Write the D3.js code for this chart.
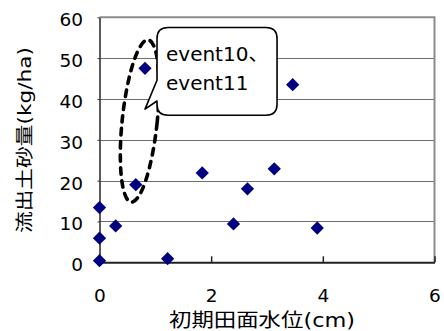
<!DOCTYPE html>
<html>
<head>
<meta charset="utf-8">
<script src="https://cdn.jsdelivr.net/npm/d3@7"></script>
<style>
  html, body { margin: 0; padding: 0; background: #fff; }
  svg { display: block; }
  text { font-family: "DejaVu Sans", "Noto Sans CJK JP", sans-serif; fill: #000; }
</style>
</head>
<body>
<svg id="chart" width="444" height="331"></svg>
<script>
// ---- data ----
const xValues = [0, 0, 0, 0.29, 0.65, 0.815, 1.22, 1.84, 2.40, 2.65, 3.13, 3.46, 3.90];
const yValues = [0.4, 5.9, 13.4, 8.9, 19.0, 47.5, 0.9, 21.9, 9.4, 18.0, 22.9, 43.5, 8.4];
const xTicks = [0, 2, 4, 6];
const yTicks = [0, 10, 20, 30, 40, 50, 60];
const xTitle = "初期田面水位(cm)";
const yTitle = "流出土砂量(kg/ha)";
const calloutLines = ["event10、", "event11"];
// annotation anchors in data units
const ellipseCenter = [0.72, 34.6];
const calloutBox = { x0: 1.03, x1: 3.18, y0: 57.5, y1: 36.0 };
const calloutTip = [0.815, 37.5];
const calloutTail = [44.6, 39.5];

// ---- layout ----
const svg = d3.select("#chart");
const x = d3.scaleLinear().domain([0, 6]).range([99.5, 434.5]);
const y = d3.scaleLinear().domain([0, 60]).range([262.3, 17.3]);
const X0 = x(0), X1 = x(6), Y0 = y(0), Y1 = y(60);

// gridlines
svg.append("g").selectAll("line").data(yTicks.filter(d => d > 0 && d < 60)).join("line")
  .attr("x1", X0).attr("x2", X1)
  .attr("y1", d => Math.round(y(d)) + 0.5).attr("y2", d => Math.round(y(d)) + 0.5)
  .attr("stroke", "#6e6e6e").attr("stroke-width", 1);

// frame top / right
svg.append("path")
  .attr("d", `M${X0},${Y1} H${X1} V${Y0}`)
  .attr("fill", "none").attr("stroke", "#8c8c8c").attr("stroke-width", 2);

// x axis
const xAxis = d3.axisBottom(x).tickValues(xTicks).tickSize(-6).tickSizeOuter(0).tickFormat(d3.format("d"));
const gx = svg.append("g").attr("transform", `translate(0,${Y0})`).call(xAxis);
gx.select(".domain").attr("stroke", "#222").attr("stroke-width", 2);
gx.selectAll(".tick line").attr("stroke", "#222").attr("stroke-width", 1.5);
gx.selectAll(".tick text").attr("y", 40).attr("dy", 0)
  .style("font-family", "'DejaVu Sans', sans-serif").style("font-size", "18.5px").attr("fill", "#000");

// y axis
const yAxis = d3.axisLeft(y).tickValues(yTicks).tickSize(2).tickSizeOuter(0).tickFormat(d3.format("d"));
const gy = svg.append("g").attr("transform", `translate(${X0},0)`).call(yAxis);
gy.select(".domain").attr("stroke", "#333").attr("stroke-width", 1.6);
gy.selectAll(".tick line").attr("stroke", "#333");
gy.selectAll(".tick text").attr("x", -16.5).attr("dy", 8.5)
  .style("font-family", "'DejaVu Sans', sans-serif").style("font-size", "18.5px").attr("fill", "#000");
svg.selectAll(".domain").attr("fill", "none");

// dashed ellipse annotation
svg.append("ellipse")
  .attr("transform", `translate(${x(ellipseCenter[0])},${y(ellipseCenter[1])}) rotate(6)`)
  .attr("rx", 17.5).attr("ry", 81.5)
  .attr("fill", "none").attr("stroke", "#000").attr("stroke-width", 3.6)
  .attr("stroke-dasharray", "6.5,6.5").attr("stroke-linecap", "round");

// points
const pts = xValues.map((v, i) => [v, yValues[i]]);
svg.append("g").selectAll("path").data(pts).join("path")
  .attr("d", d3.symbol(d3.symbolSquare).size(88)())
  .attr("transform", d => `translate(${x(d[0])},${y(d[1])}) rotate(45)`)
  .attr("fill", "#000080");

// callout
const bx0 = x(calloutBox.x0), bx1 = x(calloutBox.x1), by0 = y(calloutBox.y0), by1 = y(calloutBox.y1);
const r = 11;
const tipX = x(calloutTip[0]), tipY = y(calloutTip[1]);
const tA = y(calloutTail[0]), tB = y(calloutTail[1]);
const p = d3.path();
p.moveTo(bx0 + r, by0);
p.lineTo(bx1 - r, by0);
p.quadraticCurveTo(bx1, by0, bx1, by0 + r);
p.lineTo(bx1, by1 - r);
p.quadraticCurveTo(bx1, by1, bx1 - r, by1);
p.lineTo(bx0 + r, by1);
p.quadraticCurveTo(bx0, by1, bx0, by1 - r);
p.lineTo(bx0, tB);
p.lineTo(tipX, tipY);
p.lineTo(bx0, tA);
p.lineTo(bx0, by0 + r);
p.quadraticCurveTo(bx0, by0, bx0 + r, by0);
p.closePath();
svg.append("path").attr("d", p.toString())
  .attr("fill", "#fff").attr("stroke", "#000").attr("stroke-width", 1.6).attr("stroke-linejoin", "round");

svg.append("g").selectAll("text").data(calloutLines).join("text")
  .attr("x", bx0 + 9).attr("y", (d, i) => by0 + 33 + i * 29)
  .attr("fill", "#000")
  .style("font-size", "20px")
  .text(d => d);

// axis titles
svg.append("text")
  .attr("x", 262).attr("y", 327)
  .attr("text-anchor", "middle")
  .attr("fill", "#000")
  .attr("textLength", 186).attr("lengthAdjust", "spacingAndGlyphs")
  .style("font-size", "19px")
  .text(xTitle);

svg.append("text")
  .attr("transform", "translate(31,140) rotate(-90)")
  .attr("text-anchor", "middle")
  .attr("fill", "#000")
  .attr("textLength", 186).attr("lengthAdjust", "spacingAndGlyphs")
  .style("font-size", "18.5px")
  .text(yTitle);
</script>
</body>
</html>
